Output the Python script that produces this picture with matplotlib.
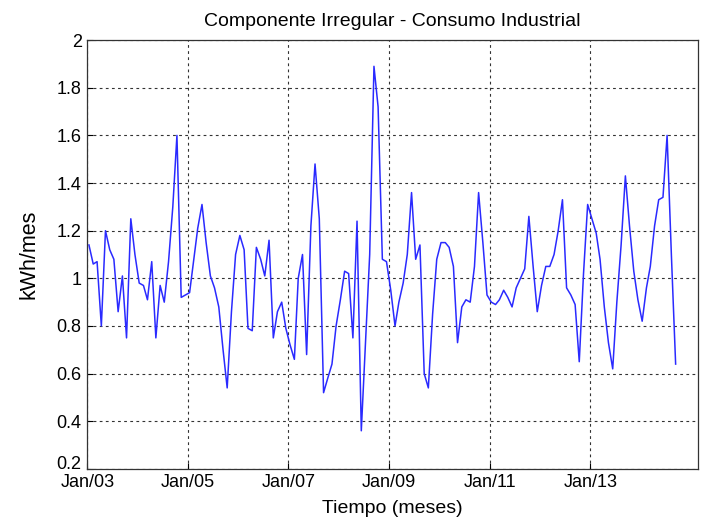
import numpy as np
import pandas as pd
import matplotlib
matplotlib.use('Agg')
import matplotlib.pyplot as plt
import matplotlib.dates as mdates
import matplotlib.transforms as mtransforms

# componente irregular mensual, ene 2003 - sep 2014
irregular = [
    1.14, 1.06, 1.07, 0.80, 1.20, 1.12, 1.08, 0.86, 1.01, 0.75, 1.25, 1.10,
    0.98, 0.97, 0.91, 1.07, 0.75, 0.97, 0.90, 1.07, 1.30, 1.60, 0.92, 0.93,
    0.94, 1.08, 1.21, 1.31, 1.15, 1.01, 0.96, 0.88, 0.70, 0.54, 0.86, 1.10,
    1.18, 1.12, 0.79, 0.78, 1.13, 1.08, 1.01, 1.16, 0.75, 0.86, 0.90, 0.79,
    0.72, 0.66, 1.00, 1.10, 0.68, 1.22, 1.48, 1.25, 0.52, 0.58, 0.64, 0.80,
    0.91, 1.03, 1.02, 0.75, 1.24, 0.36, 0.72, 1.10, 1.89, 1.72, 1.08, 1.07,
    0.95, 0.80, 0.90, 0.98, 1.10, 1.36, 1.08, 1.14, 0.60, 0.54, 0.85, 1.08,
    1.15, 1.15, 1.13, 1.05, 0.73, 0.88, 0.91, 0.90, 1.05, 1.36, 1.15, 0.93,
    0.90, 0.89, 0.91, 0.95, 0.92, 0.88, 0.96, 1.00, 1.04, 1.26, 1.05, 0.86,
    0.97, 1.05, 1.05, 1.10, 1.20, 1.33, 0.96, 0.93, 0.89, 0.65, 1.02, 1.31,
    1.25, 1.19, 1.08, 0.88, 0.73, 0.62, 0.90, 1.14, 1.43, 1.22, 1.03, 0.91,
    0.82, 0.96, 1.05, 1.22, 1.33, 1.34, 1.60, 1.10, 0.64,
]
fechas = pd.date_range('2003-01-01', periods=len(irregular), freq='MS') + pd.Timedelta(days=12)

yticks = [0.2, 0.4, 0.6, 0.8, 1.0, 1.2, 1.4, 1.6, 1.8, 2.0]
ytick_labels = ['0.2', '0.4', '0.6', '0.8', '1', '1.2', '1.4', '1.6', '1.8', '2']
xticks = pd.to_datetime(['2003-01-01', '2005-01-01', '2007-01-01',
                         '2009-01-01', '2011-01-01', '2013-01-01'])

plt.rcParams['font.family'] = ['Liberation Sans', 'DejaVu Sans']

fig = plt.figure(figsize=(7.04, 5.21), dpi=100)
ax = fig.add_axes([0.124, 0.100, 0.867, 0.823])

ax.plot(fechas, irregular, color='#2a2aff', linewidth=1.1)

ax.set_xlim(pd.Timestamp('2003-01-01'), pd.Timestamp('2015-02-20'))
ax.set_ylim(0.2, 2.0)
ax.set_xticks(xticks)
ax.xaxis.set_major_formatter(mdates.DateFormatter('%b/%y'))
ax.set_yticks(yticks)
ax.set_yticklabels(ytick_labels)
ax.tick_params(direction='in', labelsize=13, length=4)
ax.tick_params(axis='x', pad=4)
ax.tick_params(axis='y', pad=4)

# subir un poco el "0.2" para que no choque con "Jan/03"
lbl = ax.get_yticklabels()[0]
lbl.set_transform(lbl.get_transform() + mtransforms.ScaledTranslation(0, 0.06, fig.dpi_scale_trans))

ax.grid(True, color='#333333', linestyle=(0, (2.5, 3)), linewidth=0.8)
for s in ax.spines.values():
    s.set_linewidth(0.9)
    s.set_color('#333333')

ax.set_title('Componente Irregular - Consumo Industrial', fontsize=14, pad=10)
ax.set_xlabel('Tiempo (meses)', fontsize=14, labelpad=6)
ax.set_ylabel('kWh/mes', fontsize=15.5, labelpad=12)

plt.savefig('out.png', dpi=100)
plt.close()
